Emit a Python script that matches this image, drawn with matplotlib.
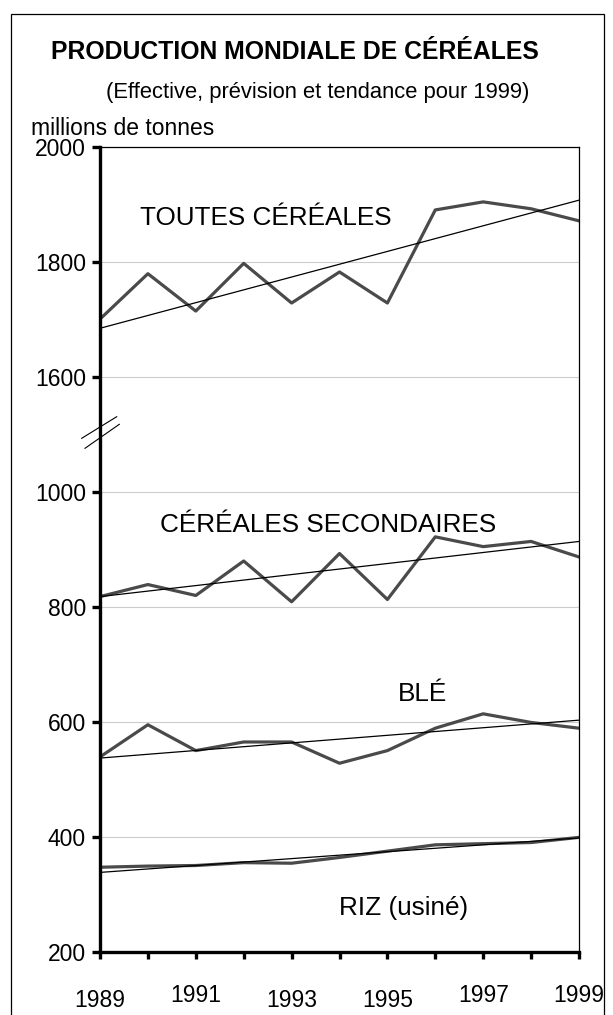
import matplotlib
matplotlib.use("Agg")
import matplotlib.pyplot as plt
from matplotlib.patches import Rectangle
from matplotlib.lines import Line2D

plt.rcParams['font.family'] = ['Liberation Sans', 'DejaVu Sans']

# Data (millions de tonnes)
years = list(range(1989, 2000))
toutes = [1701, 1780, 1715, 1798, 1729, 1783, 1729, 1891, 1905, 1893, 1872]
secondaires = [818, 839, 820, 880, 809, 893, 813, 922, 905, 914, 887]
ble = [539, 595, 550, 565, 565, 528, 550, 589, 614, 599, 589]
riz = [347, 349, 350, 355, 354, 364, 375, 386, 388, 390, 399]

# trend lines (start / end)
trend_years = [1989, 1999]
toutes_trend = [1685, 1908]
secondaires_trend = [818, 914]
ble_trend = [537, 603]
riz_trend = [338, 398]

ytick_values = [200, 400, 600, 800, 1000, 1600, 1800, 2000]
xlabel_years = [1989, 1991, 1993, 1995, 1997, 1999]

BREAK = 400  # axis is cut between 1000 and 1600


def shift(vals):
    # values above the break are drawn lower by BREAK
    return [v - BREAK if v >= 1600 else v for v in vals]


W, H = 613, 1015


def fx(x):
    return x / W


def fy(y):
    return 1 - y / H


fig = plt.figure(figsize=(W / 100, H / 100), dpi=100)
ax = fig.add_axes([fx(100), fy(951.7), (579 - 100) / W, (951.7 - 147.3) / H])

line_col = '#4a4a4a'
ax.plot(years, shift(toutes), color=line_col, lw=2.3)
ax.plot(years, secondaires, color=line_col, lw=2.3)
ax.plot(years, ble, color=line_col, lw=2.3)
ax.plot(years, riz, color=line_col, lw=2.3)

ax.plot(trend_years, shift(toutes_trend), color='black', lw=0.9)
ax.plot(trend_years, secondaires_trend, color='black', lw=0.9)
ax.plot(trend_years, ble_trend, color='black', lw=0.9)
ax.plot(trend_years, riz_trend, color='black', lw=0.9)

ax.set_xlim(1989, 1999)
ax.set_ylim(200, 1600)

ax.set_yticks(shift(ytick_values))
ax.set_yticklabels([str(v) for v in ytick_values])
ax.set_xticks(years)
ax.set_xticklabels([])

ax.grid(axis='y', color='#cccccc', lw=0.8)
ax.set_axisbelow(True)

for side in ['left', 'bottom']:
    ax.spines[side].set_linewidth(2.4)
for side in ['top', 'right']:
    ax.spines[side].set_linewidth(0.9)

ax.tick_params(axis='y', direction='out', length=6, width=2.4, pad=4, labelsize=16.5)
ax.tick_params(axis='x', direction='out', length=5, width=2.4, labelbottom=False)

# staggered year labels
xlabel_raise = [0, 1, 0, 0, 1, 1]
for yr, up in zip(xlabel_years, xlabel_raise):
    base = 1002.5 if up else 1006.7
    ax.annotate(str(yr), xy=(yr, 0), xycoords=('data', 'axes fraction'),
                xytext=(0, -(base - 951.7) * 0.72), textcoords='offset points',
                ha='center', va='baseline', fontsize=16.5)

# axis break marks
fig.add_artist(Line2D([fx(81.7), fx(116.7)], [fy(438.3), fy(416.7)], color='black', lw=0.8))
fig.add_artist(Line2D([fx(85), fx(119.3)], [fy(448.3), fy(424.3)], color='black', lw=0.8))

# series labels
fig.text(fx(266), fy(225), 'TOUTES CÉRÉALES', ha='center', va='baseline', fontsize=18.8)
fig.text(fx(327.7), fy(531.7), 'CÉRÉALES SECONDAIRES', ha='center', va='baseline', fontsize=18.8)
fig.text(fx(422), fy(700.7), 'BLÉ', ha='center', va='baseline', fontsize=18.8)
fig.text(fx(404), fy(915), 'RIZ (usiné)', ha='center', va='baseline', fontsize=18.8)

# titles
fig.text(fx(295), fy(59.3), 'PRODUCTION MONDIALE DE CÉRÉALES', ha='center', va='baseline',
         fontsize=17.8, fontweight='bold')
fig.text(fx(318), fy(98), '(Effective, prévision et tendance pour 1999)', ha='center',
         va='baseline', fontsize=15.8)
fig.text(fx(30.7), fy(135), 'millions de tonnes', ha='left', va='baseline', fontsize=16.5)

# outer frame
fig.add_artist(Rectangle((fx(10.7), -0.02), (604 - 10.7) / W, fy(14) + 0.02,
                         transform=fig.transFigure, fill=False, lw=0.9, color='black'))

fig.savefig('out.png', dpi=100)
